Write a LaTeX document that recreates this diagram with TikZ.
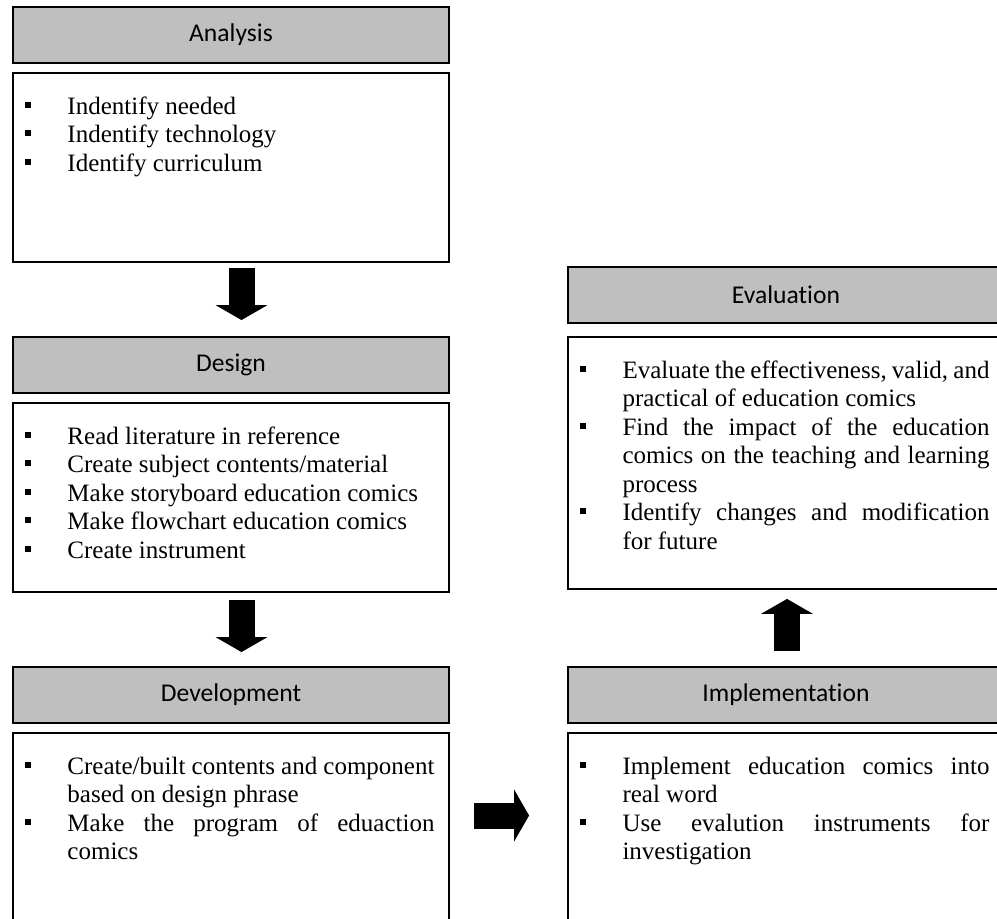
\documentclass[tikz,border=0pt]{standalone}
\usepackage{fontspec}
\setmainfont{Liberation Serif}
\newfontfamily\headfont{Carlito}[Ligatures={NoCommon,NoDiscretionary}]
\usetikzlibrary{arrows.meta,calc}
\definecolor{headgray}{RGB}{191,191,191}
\hyphenpenalty=10000
\exhyphenpenalty=10000
\emergencystretch=6pt
\newcommand{\sqbullet}{\hspace*{6pt}\rule[3.1pt]{3.2pt}{3pt}\strut\hfill}
\newenvironment{phaselist}{\begin{list}{\sqbullet}{%
  \setlength{\leftmargin}{27.5pt}\setlength{\labelwidth}{27.5pt}%
  \setlength{\labelsep}{0pt}\setlength{\itemindent}{0pt}%
  \setlength{\itemsep}{0pt}\setlength{\parsep}{0pt}%
  \setlength{\topsep}{0pt}\setlength{\partopsep}{0pt}}}{\end{list}}

\begin{document}
\begin{tikzpicture}[x=0.5pt,y=-0.5pt,
  headbox/.style={draw,line width=0.95pt,fill=headgray,minimum width=218pt,
    minimum height=28pt,inner sep=0pt,font=\headfont\fontsize{12.8}{14}\selectfont},
  bodybox/.style={draw,line width=0.9pt,minimum width=218pt,inner sep=0pt},
  phasetext/.style={anchor=north west,text width=211pt,inner sep=0pt,align=justify,
    font=\fontsize{12.5}{14.25}\selectfont},
  bigarrow/.style={line width=13pt,
    -{Triangle[length=7.5pt,width=26pt,line width=0pt]}}]
  \useasboundingbox (0,0) rectangle (997,918);
  \clip (0,0) rectangle (997,918);

  % Analysis
  \node[headbox] (anahead) at (231,35) {Analysis};
  \node[bodybox,minimum height=94.5pt] (anabody) at (231,167.5) {};
  \node[phasetext] (anatext) at ($(anabody.north west)+(0,13)$) {\begin{phaselist}
    \item Indentify needed
    \item Indentify technology
    \item Identify curriculum
  \end{phaselist}};

  % Design
  \node[headbox] (deshead) at (231,365) {Design};
  \node[bodybox,minimum height=94.5pt] (desbody) at (231,497.5) {};
  \node[phasetext] (destext) at ($(desbody.north west)+(0,13)$) {\begin{phaselist}
    \item Read literature in reference
    \item Create subject contents/material
    \item Make storyboard education comics
    \item Make flowchart education comics
    \item Create instrument
  \end{phaselist}};

  % Development
  \node[headbox] (devhead) at (231,695) {Development};
  \node[bodybox,minimum height=94.5pt] (devbody) at (231,827.5) {};
  \node[phasetext] (devtext) at ($(devbody.north west)+(0,13)$) {\begin{phaselist}
    \item Create/built contents and component based on design phrase
    \item Make the program of eduaction comics
  \end{phaselist}};

  % Implementation
  \node[headbox] (imphead) at (786,695) {Implementation};
  \node[bodybox,minimum height=94.5pt] (impbody) at (786,827.5) {};
  \node[phasetext] (imptext) at ($(impbody.north west)+(0,13)$) {\begin{phaselist}
    \item Implement education comics into real word
    \item Use evalution instruments for investigation
  \end{phaselist}};

  % Evaluation
  \node[headbox] (evahead) at (786,295) {Evaluation};
  \node[bodybox,minimum height=126pt] (evabody) at (786,463) {};
  \node[phasetext] (evatext) at ($(evabody.north west)+(0,13)$) {\begin{phaselist}
    \item Evaluate the effectiveness, valid, and practical of education comics
    \item Find the impact of the education comics on the teaching and learning process
    \item Identify changes and modification for future
  \end{phaselist}};

  % Flow between phases
  \draw[bigarrow] ($(anabody.south)+(10.5,5)$) -- ($(deshead.north)+(10.5,-16)$);
  \draw[bigarrow] ($(desbody.south)+(10.5,7)$) -- ($(devhead.north)+(10.5,-14)$);
  \draw[bigarrow] ($(devbody.east)+(24,-12)$) -- ($(impbody.west)+(-38,-12)$);
  \draw[bigarrow] ($(imphead.north)+(1,-15)$) -- ($(evabody.south)+(1,9)$);

\end{tikzpicture}
\end{document}
